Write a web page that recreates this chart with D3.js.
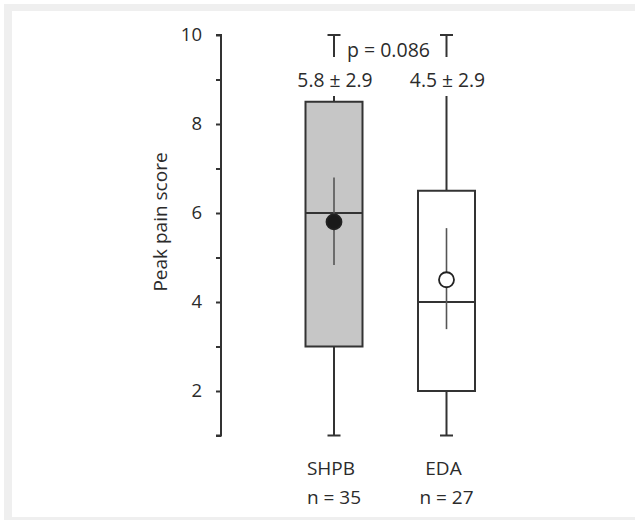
<!DOCTYPE html>
<html>
<head>
<meta charset="utf-8">
<script src="https://cdn.jsdelivr.net/npm/d3@7"></script>
<style>
  body { margin: 0; background: #fff; }
  svg text { font-family: "Open Sans", sans-serif; fill: #2b2b2b; }
</style>
</head>
<body>
<svg id="chart" width="635" height="520"></svg>
<script>
// values
const groups = ['SHPB', 'EDA'];
const nLabels = ['n = 35', 'n = 27'];
const mins = [1, 1];
const q1s = [3, 2];
const medians = [6, 4];
const q3s = [8.5, 6.5];
const maxs = [10, 10];
const means = [5.8, 4.5];
const sds = [2.9, 2.9];
const ciLow = [4.83, 3.39];
const ciHigh = [6.8, 5.66];
const filled = [true, false];
const yTicks = [1, 2, 3, 4, 5, 6, 7, 8, 9, 10];
const yLabels = [2, 4, 6, 8, 10];
const pLabel = 'p = 0.086';

const svg = d3.select('#chart');
const ink = '#333';

// grey frame round the figure
svg.append('rect').attr('x', 4).attr('y', 4).attr('width', 631).attr('height', 516).attr('fill', '#efefef');
svg.append('rect').attr('x', 12).attr('y', 11).attr('width', 623).attr('height', 506).attr('fill', '#fff');

const y = d3.scaleLinear().domain([1, 10]).range([435.5, 35]);
const x = d3.scalePoint().domain(groups).range([334, 446.5]);
const boxW = 57, capW = 13;

const rows = groups.map((g, i) => ({
    g, n: nLabels[i], min: mins[i], q1: q1s[i], med: medians[i], q3: q3s[i], max: maxs[i],
    mean: means[i], sd: sds[i], lo: ciLow[i], hi: ciHigh[i], filled: filled[i]
}));

// y axis
const axisX = 221;
const yAxis = d3.axisLeft(y).tickValues(yTicks).tickSize(5).tickPadding(14)
    .tickFormat(d => yLabels.includes(d) ? d : '');
const ga = svg.append('g').attr('transform', `translate(${axisX},0)`).call(yAxis);
ga.select('.domain').attr('stroke', ink).attr('stroke-width', 2).attr('d', `M-5,${y(10)}H0V${y(1)}H-5`);
ga.selectAll('.tick line').attr('stroke', ink).attr('stroke-width', 2);
ga.selectAll('.tick text').attr('font-size', 18.5).attr('fill', '#2b2b2b')
    .style('font-family', '"Open Sans", sans-serif');

svg.append('text')
    .attr('transform', 'translate(167,222) rotate(-90)')
    .attr('text-anchor', 'middle').attr('font-size', 19)
    .text('Peak pain score');

const labelY = 87;
const g = svg.append('g');

// whiskers, broken around the mean ± SD label
rows.forEach(r => {
    const cx = x(r.g);
    g.append('line').attr('x1', cx).attr('x2', cx).attr('y1', y(r.max)).attr('y2', labelY - 30)
        .attr('stroke', ink).attr('stroke-width', 2);
    g.append('line').attr('x1', cx).attr('x2', cx).attr('y1', labelY + 9).attr('y2', y(r.q3))
        .attr('stroke', ink).attr('stroke-width', 2);
    g.append('line').attr('x1', cx).attr('x2', cx).attr('y1', y(r.q1)).attr('y2', y(r.min))
        .attr('stroke', ink).attr('stroke-width', 2);
    [r.max, r.min].forEach(v => g.append('line')
        .attr('x1', cx - capW / 2).attr('x2', cx + capW / 2).attr('y1', y(v)).attr('y2', y(v))
        .attr('stroke', ink).attr('stroke-width', 2));
});

// boxes
g.selectAll('rect.box').data(rows).join('rect')
    .attr('class', 'box')
    .attr('x', d => x(d.g) - boxW / 2).attr('width', boxW)
    .attr('y', d => y(d.q3)).attr('height', d => y(d.q1) - y(d.q3))
    .attr('fill', d => d.filled ? '#c6c6c6' : '#fff')
    .attr('stroke', ink).attr('stroke-width', 2);

g.selectAll('line.med').data(rows).join('line')
    .attr('class', 'med')
    .attr('x1', d => x(d.g) - boxW / 2).attr('x2', d => x(d.g) + boxW / 2)
    .attr('y1', d => y(d.med)).attr('y2', d => y(d.med))
    .attr('stroke', ink).attr('stroke-width', 2);

// interval around the mean
g.selectAll('line.ci').data(rows).join('line')
    .attr('class', 'ci')
    .attr('x1', d => x(d.g)).attr('x2', d => x(d.g))
    .attr('y1', d => y(d.hi)).attr('y2', d => y(d.lo))
    .attr('stroke', '#555').attr('stroke-width', 1.6);

g.selectAll('circle.mean').data(rows).join('circle')
    .attr('class', 'mean')
    .attr('cx', d => x(d.g)).attr('cy', d => y(d.mean)).attr('r', 7.5)
    .attr('fill', d => d.filled ? '#1a1a1a' : '#fff')
    .attr('stroke', '#222').attr('stroke-width', 1.8);

// labels
svg.selectAll('text.msd').data(rows).join('text')
    .attr('class', 'msd')
    .attr('x', d => x(d.g) + 1).attr('y', labelY)
    .attr('text-anchor', 'middle').attr('font-size', 19.3)
    .text(d => `${d.mean.toFixed(1)} \u00b1 ${d.sd.toFixed(1)}`);

svg.append('text').attr('x', 347).attr('y', 56.5).attr('font-size', 19.5).text(pLabel);

svg.selectAll('text.grp').data(rows).join('text')
    .attr('class', 'grp')
    .attr('x', d => x(d.g) - 3).attr('y', 475)
    .attr('text-anchor', 'middle').attr('font-size', 19)
    .text(d => d.g);

svg.selectAll('text.n').data(rows).join('text')
    .attr('class', 'n')
    .attr('x', d => x(d.g) + 0).attr('y', 504)
    .attr('text-anchor', 'middle').attr('font-size', 19)
    .text(d => d.n);
</script>
</body>
</html>
